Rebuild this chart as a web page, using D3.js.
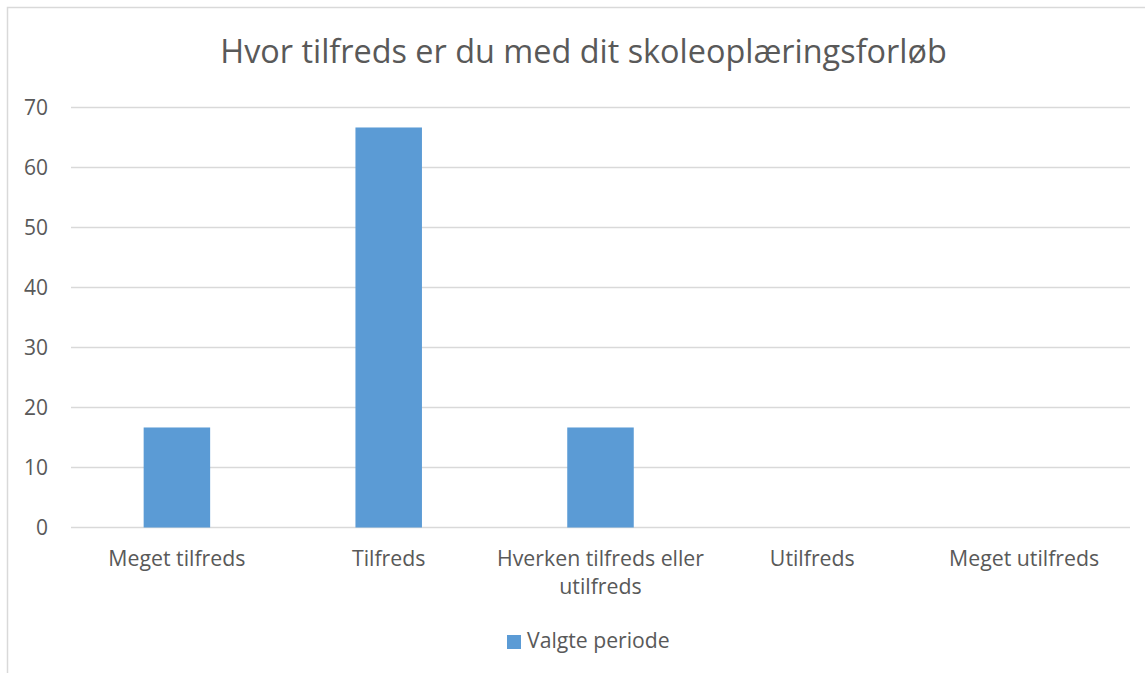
<!doctype html>
<html>
<head>
<meta charset="utf-8">
<title>Hvor tilfreds er du med dit skoleoplæringsforløb</title>
<script src="https://cdn.jsdelivr.net/npm/d3@7"></script>
<style>
  body { margin: 0; background: #fff; }
  svg { display: block; font-family: "Open Sans", "DejaVu Sans", sans-serif; }
</style>
</head>
<body>
<svg width="1145" height="673"></svg>
<script>
// data
var chartTitle = "Hvor tilfreds er du med dit skoleoplæringsforløb";
var categories = ["Meget tilfreds", "Tilfreds", "Hverken tilfreds eller utilfreds", "Utilfreds", "Meget utilfreds"];
var values = [16.67, 66.67, 16.67, 0, 0];
var seriesName = "Valgte periode";
var yTicks = [0, 10, 20, 30, 40, 50, 60, 70];

var svg = d3.select("svg"),
    width = +svg.attr("width"),
    height = +svg.attr("height");

var fontFam = "Open Sans, DejaVu Sans, sans-serif";
var margin = {left: 71, right: 15, top: 107.5, bottom: 145.5};
var textColor = "#595959",
    gridColor = "#d9d9d9",
    barColor = "#5b9bd5";

// chart frame (only top/left visible in the picture)
svg.append("rect")
    .attr("x", 7.5).attr("y", 7.5)
    .attr("width", 1160).attr("height", 720)
    .attr("fill", "none")
    .attr("stroke", gridColor)
    .attr("stroke-width", 1.5);

var x = d3.scaleBand()
    .domain(categories)
    .range([margin.left, width - margin.right])
    .paddingInner(0.686)
    .paddingOuter(0.343);

var y = d3.scaleLinear()
    .domain([0, 70])
    .range([height - margin.bottom, margin.top]);

// title
svg.append("text")
    .attr("x", 583.5)
    .attr("y", 63)
    .attr("text-anchor", "middle")
    .attr("fill", textColor)
    .attr("font-size", 32.4)
    .text(chartTitle);

// gridlines
svg.append("g")
    .selectAll("line")
    .data(yTicks)
    .enter().append("line")
    .attr("x1", margin.left)
    .attr("x2", width - margin.right)
    .attr("y1", function (d) { return y(d); })
    .attr("y2", function (d) { return y(d); })
    .attr("stroke", gridColor)
    .attr("stroke-width", 1.3);

// y axis labels
var yAxis = svg.append("g")
    .attr("transform", "translate(" + (margin.left - 23) + ",0)")
    .call(d3.axisLeft(y).tickValues(yTicks).tickSize(0).tickPadding(0));
yAxis.select(".domain").remove();
yAxis.attr("font-family", fontFam).attr("font-size", 21);
yAxis.selectAll("text")
    .attr("fill", textColor);

// bars
svg.append("g")
    .selectAll("rect")
    .data(values)
    .enter().append("rect")
    .attr("x", function (d, i) { return x(categories[i]); })
    .attr("y", function (d) { return y(d); })
    .attr("width", x.bandwidth())
    .attr("height", function (d) { return y(0) - y(d); })
    .attr("fill", barColor);

// category labels (wrapped)
var xAxis = svg.append("g")
    .attr("transform", "translate(0," + y(0) + ")")
    .call(d3.axisBottom(x).tickSize(0).tickPadding(0));
xAxis.select(".domain").remove();
xAxis.attr("font-family", fontFam).attr("font-size", 21.3);
xAxis.selectAll("text").remove();
xAxis.selectAll(".tick").each(function (d) {
    var lines = d === "Hverken tilfreds eller utilfreds" ? ["Hverken tilfreds eller", "utilfreds"] : [d];
    var t = d3.select(this).append("text")
        .attr("text-anchor", "middle")
        .attr("fill", textColor);
    lines.forEach(function (l, i) {
        t.append("tspan").attr("x", 0).attr("y", 38.5 + i * 27.5).text(l);
    });
});

// legend
var legend = svg.append("g").attr("transform", "translate(507,635)");
legend.append("rect")
    .attr("width", 14).attr("height", 14)
    .attr("fill", barColor);
legend.append("text")
    .attr("x", 20).attr("y", 13)
    .attr("fill", textColor)
    .attr("font-size", 21.2)
    .text(seriesName);
</script>
</body>
</html>
